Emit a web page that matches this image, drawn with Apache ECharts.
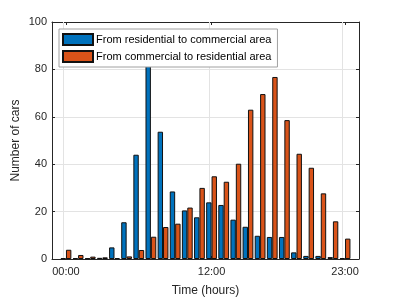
<!DOCTYPE html>
<html><head><meta charset="utf-8">
<script src="https://cdn.jsdelivr.net/npm/echarts@6/dist/echarts.min.js"></script>
<style>html,body{margin:0;padding:0;background:#fff}#c{width:397px;height:297px}</style>
</head><body><div id="c"></div>
<script>
const hours = [0,1,2,3,4,5,6,7,8,9,10,11,12,13,14,15,16,17,18,19,20,21,22,23];
const resToCom = [0.3,0.4,0.3,0.5,4.9,15.5,44,95,53.7,28.5,20.5,17.6,23.9,22.8,16.6,13.6,9.8,9.3,9.3,2.8,1.3,1.3,0.8,0.4];
const comToRes = [3.9,1.7,1,0.7,0.4,1.1,3.8,9.4,13.5,14.9,21.7,30,34.9,32.6,40.2,63,69.6,76.8,58.6,44.4,38.5,27.7,15.9,8.6];
const tickHours = [0,12,23];
const tickLabels = ['00:00','12:00','23:00'];

const axisColor = '#262626';
const font = 'Liberation Sans, Arial, sans-serif';
const chart = echarts.init(document.getElementById('c'), null, {renderer:'canvas'});
const labelMap = {};
tickHours.forEach((h,i)=>labelMap[h]=tickLabels[i]);
const xBase = {type:'value', min:-1.15, max:24.15, gridIndex:0};
chart.setOption({
  backgroundColor:'#fff',
  animation:false,
  grid:{left:52,right:38,top:22,bottom:38,containLabel:false,outerBoundsMode:'none'},
  legend:{
    z:20,
    left:59, top:29, orient:'vertical', itemWidth:30, itemHeight:11, itemGap:4,
    padding:[4,6,4,3], backgroundColor:'#fff', borderColor:'#a0a0a0', borderWidth:1,
    icon:'rect',
    textStyle:{fontFamily:font, fontSize:11, color:'#000', padding:[0,0,0,-2]},
    data:['From residential to commercial area','From commercial to residential area']
  },
  xAxis:[
    Object.assign({}, xBase, {
      position:'bottom',
      name:'Time (hours)', nameLocation:'middle', nameGap:26, nameMoveOverlap:false,
      nameTextStyle:{fontFamily:font, fontSize:12, color:axisColor},
      axisLine:{show:true, onZero:false, lineStyle:{color:axisColor, width:1}},
      axisTick:{show:true, inside:true, length:3, customValues:tickHours, lineStyle:{color:axisColor}},
      axisLabel:{show:true, customValues:tickHours, formatter:v=>labelMap[v]||'', fontFamily:font, fontSize:11, color:axisColor, margin:7},
      splitLine:{show:false}
    }),
    Object.assign({}, xBase, {
      position:'top',
      axisLine:{show:true, onZero:false, lineStyle:{color:axisColor, width:1}},
      axisTick:{show:true, inside:true, length:3, customValues:tickHours, lineStyle:{color:axisColor}},
      axisLabel:{show:false},
      splitLine:{show:false}
    })
  ],
  yAxis:[
    {type:'value', min:0, max:100, interval:20, position:'left',
     name:'Number of cars', nameLocation:'middle', nameGap:30, nameRotate:90, nameMoveOverlap:false,
     nameTextStyle:{fontFamily:font, fontSize:12, color:axisColor},
     axisLine:{show:true, onZero:false, lineStyle:{color:axisColor, width:1}},
     axisTick:{show:true, inside:true, length:3, lineStyle:{color:axisColor}},
     axisLabel:{fontFamily:font, fontSize:11, color:axisColor, margin:5},
     splitLine:{show:true, lineStyle:{color:'#e3e3e3', width:1}}
    },
    {type:'value', min:0, max:100, interval:20, position:'right',
     axisLine:{show:true, onZero:false, lineStyle:{color:axisColor, width:1}},
     axisTick:{show:true, inside:true, length:3, lineStyle:{color:axisColor}},
     axisLabel:{show:false}, splitLine:{show:false}
    }
  ],
  series:[
    {name:'From residential to commercial area', type:'bar', xAxisIndex:0, yAxisIndex:0,
     data:hours.map((h,i)=>[h,resToCom[i]]), barWidth:5.4, barGap:'0%',
     itemStyle:{color:'#0072BD', borderColor:'#111', borderWidth:1},
     markLine:{silent:true, symbol:'none', label:{show:false}, animation:false, z:1,
       lineStyle:{color:'#e3e3e3', type:'solid', width:1},
       data:tickHours.map(h=>({xAxis:h}))},
     z:3
    },
    {name:'From commercial to residential area', type:'bar', xAxisIndex:0, yAxisIndex:0,
     data:hours.map((h,i)=>[h,comToRes[i]]), barWidth:5.4, barGap:'0%',
     itemStyle:{color:'#D95319', borderColor:'#111', borderWidth:1},
     z:3
    }
  ]
});
</script></body></html>
